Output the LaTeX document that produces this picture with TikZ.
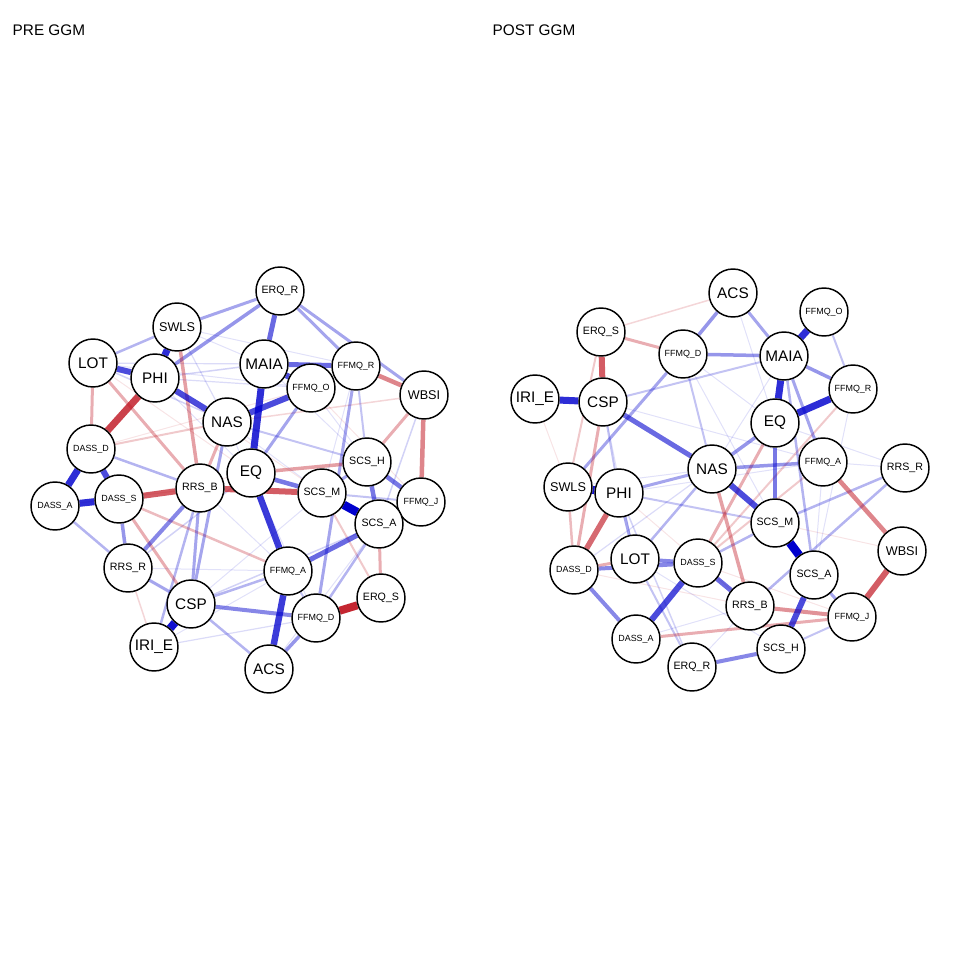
\documentclass[tikz,border=0pt]{standalone}
\usepackage{fontspec}
\setmainfont{Liberation Sans}
\definecolor{qblue}{RGB}{0,0,205}
\definecolor{qred}{RGB}{192,24,36}
\pgfdeclarelayer{bg}
\pgfsetlayers{bg,main}

\begin{document}
\begin{tikzpicture}[x=0.75pt,y=-0.75pt,
    vnode/.style={circle,draw=black,line width=1.1pt,fill=white,
      minimum size=36pt,inner sep=0pt},
    vbig/.style={vnode,font=\fontsize{11.5}{12}\selectfont},
    vmid/.style={vnode,font=\fontsize{9.5}{10}\selectfont},
    vfive/.style={vnode,font=\fontsize{8}{9}\selectfont},
    vsix/.style={vnode,font=\fontsize{6.7}{7}\selectfont},
    title/.style={anchor=base west,font=\fontsize{11.5}{12}\selectfont}
  ]
  \useasboundingbox (0,0) rectangle (960,960);

  % Titles
  \node[title] (preT) at (8,36) {PRE GGM};
  \node[title] (postT) at (488,36) {POST GGM};

  % PRE network
  \node[vfive] (preERQR) at (280,291) {ERQ\_R};
  \node[vmid]  (preSWLS) at (177,327) {SWLS};
  \node[vbig]  (preLOT) at (93,363) {LOT};
  \node[vbig]  (prePHI) at (155,378) {PHI};
  \node[vbig]  (preMAIA) at (264,364) {MAIA};
  \node[vsix]  (preFFMQO) at (311,388) {FFMQ\_O};
  \node[vsix]  (preFFMQR) at (356,366) {FFMQ\_R};
  \node[vmid]  (preWBSI) at (424,395) {WBSI};
  \node[vbig]  (preNAS) at (227,422) {NAS};
  \node[vsix]  (preDASSD) at (91,449) {DASS\_D};
  \node[vbig]  (preEQ) at (251,473) {EQ};
  \node[vfive] (preSCSH) at (367,462) {SCS\_H};
  \node[vfive] (preRRSB) at (200,488) {RRS\_B};
  \node[vsix]  (preDASSA) at (55,506) {DASS\_A};
  \node[vsix]  (preDASSS) at (119,499) {DASS\_S};
  \node[vfive] (preSCSM) at (322,493) {SCS\_M};
  \node[vsix]  (preFFMQJ) at (421,502) {FFMQ\_J};
  \node[vfive] (preSCSA) at (379,524) {SCS\_A};
  \node[vfive] (preRRSR) at (128,568) {RRS\_R};
  \node[vsix]  (preFFMQA) at (288,571) {FFMQ\_A};
  \node[vfive] (preERQS) at (381,598) {ERQ\_S};
  \node[vbig]  (preCSP) at (191,604) {CSP};
  \node[vsix]  (preFFMQD) at (316,618) {FFMQ\_D};
  \node[vbig]  (preIRIE) at (154,647) {IRI\_E};
  \node[vbig]  (preACS) at (269,669) {ACS};

  % POST network
  \node[vbig]  (postACS) at (733,293) {ACS};
  \node[vsix]  (postFFMQO) at (824,312) {FFMQ\_O};
  \node[vfive] (postERQS) at (601,332) {ERQ\_S};
  \node[vsix]  (postFFMQD) at (683,354) {FFMQ\_D};
  \node[vbig]  (postMAIA) at (784,356) {MAIA};
  \node[vsix]  (postFFMQR) at (853,389) {FFMQ\_R};
  \node[vbig]  (postIRIE) at (535,399) {IRI\_E};
  \node[vbig]  (postCSP) at (603,402) {CSP};
  \node[vbig]  (postEQ) at (775,423) {EQ};
  \node[vsix]  (postFFMQA) at (823,462) {FFMQ\_A};
  \node[vfive] (postRRSR) at (905,468) {RRS\_R};
  \node[vbig]  (postNAS) at (712,469) {NAS};
  \node[vmid]  (postSWLS) at (568,487) {SWLS};
  \node[vbig]  (postPHI) at (619,493) {PHI};
  \node[vfive] (postSCSM) at (775,523) {SCS\_M};
  \node[vmid]  (postWBSI) at (902,551) {WBSI};
  \node[vbig]  (postLOT) at (635,559) {LOT};
  \node[vsix]  (postDASSS) at (698,563) {DASS\_S};
  \node[vsix]  (postDASSD) at (574,570) {DASS\_D};
  \node[vfive] (postSCSA) at (814,575) {SCS\_A};
  \node[vfive] (postRRSB) at (750,606) {RRS\_B};
  \node[vsix]  (postFFMQJ) at (852,617) {FFMQ\_J};
  \node[vsix]  (postDASSA) at (636,639) {DASS\_A};
  \node[vfive] (postSCSH) at (781,649) {SCS\_H};
  \node[vfive] (postERQR) at (692,667) {ERQ\_R};

  % Edges: weak first, strong on top
  \begin{pgfonlayer}{bg}
    \foreach \a/\b/\w/\c [evaluate=\w as \op using \w/8.5] in {
        preLOT/preFFMQO/1/qblue, prePHI/preEQ/1/qblue,
        preSWLS/preMAIA/1/qblue, preNAS/preSCSM/1/qblue,
        preEQ/preFFMQD/1/qblue, preRRSB/preFFMQA/1/qblue,
        preDASSS/preEQ/1/qred, preCSP/preSCSM/1/qblue,
        preLOT/preEQ/1/qred, preFFMQO/preSCSH/1/qblue,
        preMAIA/preSCSH/1/qblue, preFFMQR/preSCSM/1/qblue,
        preDASSD/preFFMQO/1/qred, preRRSR/preFFMQA/1/qblue,
        preSWLS/preFFMQR/1/qblue, preACS/preSCSA/1/qblue,
        preNAS/preFFMQA/1/qblue, prePHI/preSCSM/1/qred,
        preFFMQO/preFFMQJ/1/qred, preIRIE/preFFMQA/1/qblue,
        preLOT/preNAS/1.5/qblue, preLOT/preMAIA/1.2/qblue,
        prePHI/preMAIA/1.5/qblue, prePHI/preFFMQO/1.2/qblue,
        preNAS/preWBSI/1.5/qred, preRRSR/preIRIE/1.5/qred,
        preWBSI/preSCSA/1.5/qblue, preCSP/preSCSA/1.5/qblue,
        preIRIE/preFFMQD/1.2/qblue, preSWLS/preNAS/1.2/qblue,
        preDASSA/preRRSB/1.2/qred, preEQ/preRRSR/1.5/qblue,
        preSCSM/preERQS/2/qred, preFFMQR/preSCSH/2/qblue,
        preNAS/preSCSH/2/qblue, preFFMQA/preFFMQD/2/qblue,
        preSCSM/preFFMQJ/2/qblue, preDASSD/preNAS/2/qred,
        preCSP/preFFMQA/2.5/qblue, preCSP/preACS/2.5/qblue,
        preDASSA/preRRSR/2.5/qblue, preDASSD/preRRSB/2.5/qblue,
        preLOT/preSWLS/2.5/qblue, preRRSB/preIRIE/2.5/qblue,
        preDASSS/preFFMQA/2.5/qred, preFFMQD/preSCSA/2.5/qblue,
        preFFMQR/preFFMQD/3/qblue, preERQR/preFFMQR/3/qblue,
        preERQR/preWBSI/3/qblue, preERQR/preSWLS/3/qblue,
        preFFMQO/preEQ/3/qblue, preRRSB/preCSP/3/qblue,
        preRRSR/preCSP/3/qblue, preNAS/preCSP/3/qblue,
        preSCSH/preSCSM/3/qblue, preLOT/preDASSD/3/qred,
        preLOT/preRRSB/3/qred, preNAS/preRRSB/3/qred,
        preDASSS/preCSP/3/qred, preSCSA/preERQS/3/qred,
        preWBSI/preSCSH/3/qred, preERQR/prePHI/3.5/qblue,
        preDASSS/preRRSR/3.5/qblue, preFFMQD/preACS/3.5/qblue,
        preSWLS/preRRSB/3.5/qred, preEQ/preSCSH/3.5/qred,
        preCSP/preFFMQD/4/qblue, preRRSB/preRRSR/4/qblue,
        preSCSH/preSCSA/4.5/qblue, preSCSH/preFFMQJ/4.5/qblue,
        preEQ/preSCSM/4.5/qblue, preWBSI/preFFMQR/4.5/qred,
        preWBSI/preFFMQJ/4.5/qred, preMAIA/preERQR/5/qblue,
        preMAIA/preFFMQR/5/qblue, preSCSA/preFFMQA/5/qblue,
        preDASSS/preRRSB/6/qred, preRRSB/preSCSM/6/qred,
        preLOT/prePHI/6/qblue, prePHI/preNAS/6/qblue,
        preNAS/preFFMQO/6/qblue, preMAIA/preFFMQO/6/qblue,
        preDASSD/preDASSS/6/qblue, preEQ/preFFMQA/6.5/qblue,
        preFFMQA/preACS/6.5/qblue, preMAIA/preEQ/7/qblue,
        prePHI/preDASSD/7/qred, preDASSD/preDASSA/7/qblue,
        preDASSA/preDASSS/7/qblue, preSWLS/prePHI/7/qblue,
        preERQS/preFFMQD/8/qred, preIRIE/preCSP/8/qblue,
        preSCSM/preSCSA/8.5/qblue,
        postCSP/postFFMQA/1/qblue, postPHI/postFFMQA/1/qblue,
        postSWLS/postNAS/1/qblue, postFFMQD/postEQ/1/qblue,
        postACS/postEQ/1/qblue, postFFMQD/postSCSM/1/qblue,
        postLOT/postSCSH/1/qblue, postDASSA/postRRSB/1/qblue,
        postERQR/postRRSB/1/qblue, postDASSS/postFFMQJ/1/qred,
        postPHI/postRRSB/1/qred, postSCSM/postWBSI/1/qred,
        postFFMQA/postSCSA/1/qblue, postRRSR/postFFMQA/1/qblue,
        postFFMQR/postSCSA/1/qblue, postEQ/postRRSR/1/qblue,
        postCSP/postLOT/1/qblue, postDASSD/postRRSB/1/qred,
        postIRIE/postSWLS/1/qred, postMAIA/postNAS/1/qblue,
        postERQS/postACS/1.5/qred, postNAS/postDASSD/1.2/qblue,
        postPHI/postERQR/1.5/qblue, postSCSH/postFFMQJ/2/qblue,
        postFFMQO/postFFMQR/2/qblue, postCSP/postMAIA/2/qblue,
        postCSP/postPHI/2/qblue, postERQS/postSWLS/2/qred,
        postFFMQR/postDASSS/2/qred, postFFMQA/postDASSS/2/qred,
        postLOT/postERQR/2/qblue, postPHI/postSCSM/2/qblue,
        postNAS/postFFMQD/2/qblue, postMAIA/postSCSA/2.5/qblue,
        postNAS/postLOT/2.5/qblue, postDASSS/postSCSM/2.5/qblue,
        postRRSR/postSCSM/2.5/qblue, postRRSR/postRRSB/2.5/qblue,
        postSWLS/postDASSD/2.5/qred, postSWLS/postFFMQD/3/qblue,
        postPHI/postNAS/3/qblue, postPHI/postLOT/3/qblue,
        postMAIA/postFFMQA/3/qblue, postACS/postMAIA/3/qblue,
        postSCSA/postFFMQJ/3/qblue, postCSP/postDASSD/3/qred,
        postERQS/postFFMQD/3/qred, postDASSD/postLOT/3/qred,
        postDASSA/postFFMQJ/3/qred, postEQ/postDASSS/3/qred,
        postNAS/postRRSB/3.5/qred, postEQ/postNAS/3.5/qblue,
        postNAS/postFFMQA/3.5/qblue, postFFMQD/postMAIA/3.5/qblue,
        postACS/postFFMQD/3.5/qblue, postMAIA/postFFMQR/3.5/qblue,
        postRRSB/postFFMQJ/4/qred, postDASSD/postDASSS/4/qblue,
        postDASSD/postDASSA/4/qblue, postLOT/postDASSS/4/qblue,
        postSCSH/postERQR/4/qblue, postEQ/postSCSM/4.5/qblue,
        postFFMQA/postWBSI/4.5/qred, postCSP/postNAS/5/qblue,
        postDASSS/postRRSB/5/qblue, postPHI/postDASSD/5.5/qred,
        postNAS/postSCSM/6/qblue, postDASSS/postDASSA/6/qblue,
        postSCSA/postSCSH/6/qblue, postERQS/postCSP/6/qred,
        postWBSI/postFFMQJ/6/qred, postIRIE/postCSP/7/qblue,
        postMAIA/postEQ/7/qblue, postEQ/postFFMQR/7/qblue,
        postMAIA/postFFMQO/7/qblue, postSWLS/postPHI/8/qblue,
        postSCSM/postSCSA/8.5/qblue}
      \draw[draw=\c,draw opacity=\op,line width=\w*0.75pt] (\a) -- (\b);
  \end{pgfonlayer}
\end{tikzpicture}
\end{document}
